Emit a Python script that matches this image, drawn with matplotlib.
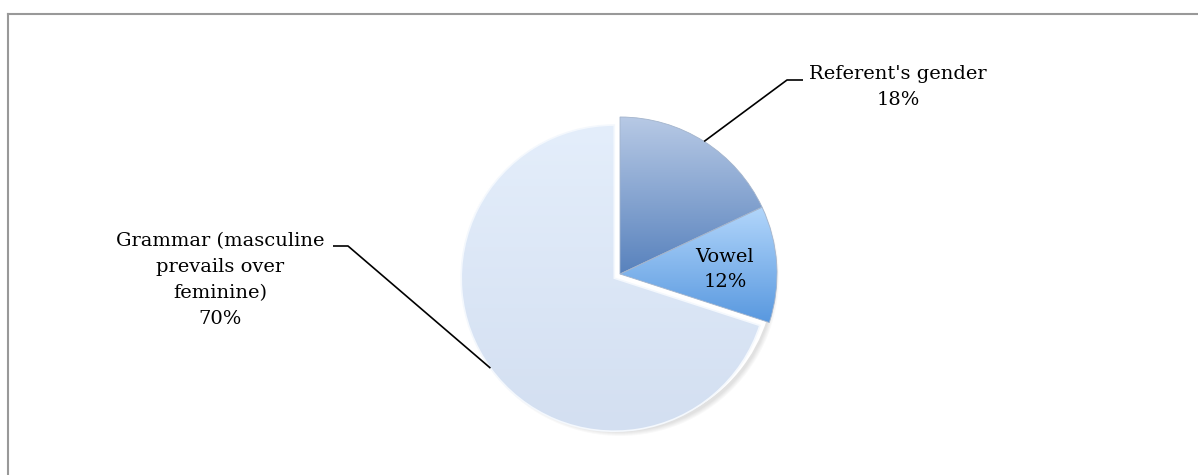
import numpy as np
import matplotlib
matplotlib.use("Agg")
import matplotlib.pyplot as plt
from matplotlib.colors import LinearSegmentedColormap
from matplotlib.patches import Circle

# ---- data ----
categories = ["Referent's gender", "Vowel", "Grammar (masculine\nprevails over\nfeminine)"]
shares = [18, 12, 70]

# ---- style ----
W, H = 1198, 475
FONT = "DejaVu Serif"
FS = 14
top_cols = ["#b7c9e5", "#b2d6fb", "#e4eefb"]
bot_cols = ["#5882bd", "#5898df", "#d3dff1"]
mid_cols = ["#87a5d1", "#85b7ee", "#dbe6f6"]

fig = plt.figure(figsize=(W / 100, H / 100), dpi=100)
ax = fig.add_axes([0, 0, 1, 1])

cx, cy, R = 620, H - 274, 157
EXPLODE = 0.045 * R   # pie() explode is in data units

# soft shadow (only visible outside the pie)
for k in range(5):
    ax.add_patch(Circle((cx, cy - 3), R - 2 + k * 1.0, color="#000000",
                        alpha=0.022, lw=0, zorder=0))
ax.add_patch(Circle((cx - 2, cy + 1), R - 1, color="white", lw=0, zorder=0.5))

wedges, _ = ax.pie(shares, startangle=90, counterclock=False, radius=R,
                   center=(cx, cy), colors=mid_cols, explode=[0, 0, EXPLODE],
                   wedgeprops=dict(edgecolor="#a3b4cc", linewidth=0.6),
                   frame=True)
ax.set_xlim(0, W)
ax.set_ylim(0, H)
ax.set_aspect("equal")
ax.axis("off")
wedges[2].set_radius(R * 0.975)
wedges[2].set_edgecolor("#f4f8fd")
wedges[2].set_linewidth(1.2)

# gradient fills clipped to the wedges
for w, t, b in zip(wedges, top_cols, bot_cols):
    ext = w.get_path().get_extents()
    cmap = LinearSegmentedColormap.from_list("g", [b, t])
    grad = np.linspace(0, 1, 256).reshape(-1, 1)
    im = ax.imshow(grad, cmap=cmap, extent=(ext.x0, ext.x1, ext.y0, ext.y1),
                   origin="lower", aspect="auto", zorder=w.get_zorder() - 0.1)
    im.set_clip_path(w)
ax.set_xlim(0, W)
ax.set_ylim(0, H)
for w in wedges:
    w.set_facecolor("none")

# labels
def mid_point(w, frac=1.0):
    ang = np.deg2rad((w.theta1 + w.theta2) / 2)
    c = w.center
    r = w.r * frac
    return c[0] + r * np.cos(ang), c[1] + r * np.sin(ang)

txt = dict(family=FONT, fontsize=FS, color="#000000", ha="center", va="center",
           linespacing=1.55, zorder=10)

# Referent's gender
p = mid_point(wedges[0])
elbow = (787, H - 80)
ax.plot([p[0], elbow[0], elbow[0] + 16], [p[1], elbow[1], elbow[1]],
        color="black", lw=1.2, zorder=9, solid_capstyle="butt")
ax.text(898, H - 87, f"{categories[0]}\n{shares[0]}%", **txt)

# Vowel (inside)
p = mid_point(wedges[1], 0.67)
ax.text(p[0], p[1] - 2, f"{categories[1]}\n{shares[1]}%", **txt)

# Grammar
p = mid_point(wedges[2])
elbow = (348, H - 246)
ax.plot([p[0], elbow[0], elbow[0] - 15], [p[1], elbow[1], elbow[1]],
        color="black", lw=1.2, zorder=9, solid_capstyle="butt")
ax.text(220, H - 280, f"{categories[2]}\n{shares[2]}%", **txt)

# frame (top and left edges visible)
fig.add_artist(plt.Line2D([7.5 / W, 1], [1 - 13.5 / H, 1 - 13.5 / H],
                          color="#999999", lw=1.5, transform=fig.transFigure))
fig.add_artist(plt.Line2D([7.5 / W, 7.5 / W], [0, 1 - 13.5 / H],
                          color="#999999", lw=1.5, transform=fig.transFigure))

fig.savefig("out.png", dpi=100, facecolor="white")
